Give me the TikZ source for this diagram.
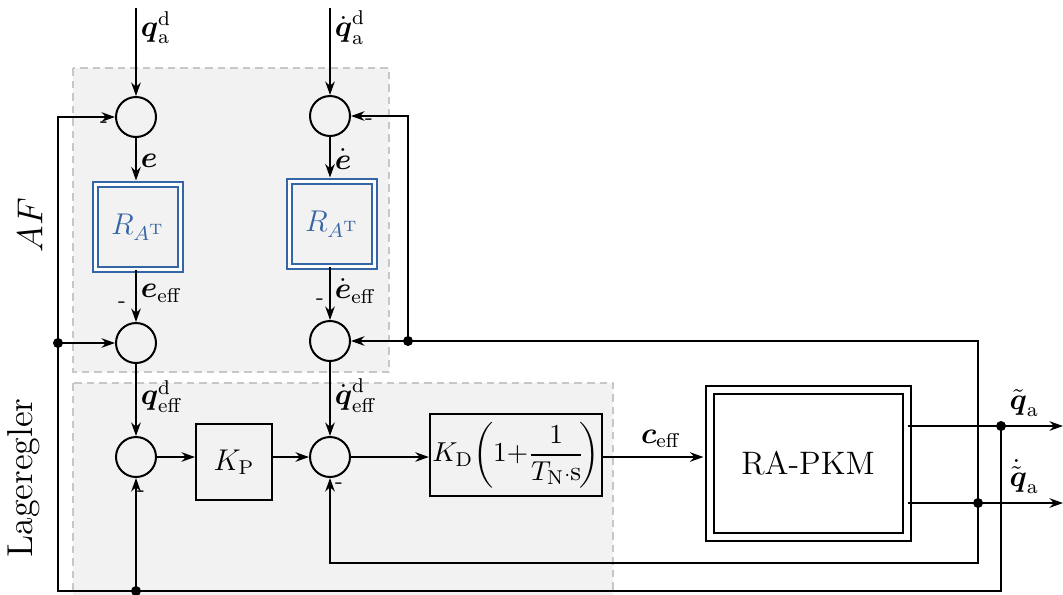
\documentclass[tikz,border=0pt]{standalone}
\usepackage{amsmath}
\usetikzlibrary{arrows.meta}
\definecolor{afblue}{RGB}{52,101,164}
\tikzset{
	sumnode/.style={circle,draw,inner sep=0pt,minimum size=16pt},
	blkbox/.style={rectangle,draw,inner sep=1pt},
	rblock/.style={rectangle,draw=afblue,text=afblue,line width=0.6pt,double=white,double distance=1.4pt,minimum size=34pt},
	plant/.style={rectangle,draw,line width=0.8pt,double=white,double distance=2.4pt,minimum width=78.8pt,minimum height=58.8pt,font=\fontsize{13pt}{15pt}\selectfont},
	region/.style={fill=black!5,draw=black!22,dash pattern=on 3pt off 2pt,line width=0.6pt},
	junc/.style={circle,fill,inner sep=0pt,minimum size=4pt},
	sgn/.style={font=\small,inner sep=0pt},
	lbl/.style={inner sep=1.5pt},
}
\begin{document}
\begin{tikzpicture}[x=0.4pt,y=-0.4pt,font=\large,thick,>={Stealth[length=5.4pt,width=3.8pt]}]
\useasboundingbox (0,0) rectangle (1063,594);
%
	\draw[region] (73,68) rectangle (389,372);
	\draw[region] (73,383) rectangle (613,610);
	\node[rotate=90,font=\Large] (lblaf) at (30,225) {$AF$};
	\node[rotate=90,font=\Large] (lbllr) at (24,478) {Lageregler};
%
	\node[sumnode] (s1) at (136,117) {};
	\node[sumnode] (s2) at (330,116) {};
	\node[rblock] (r1) at (138,227) {$R_{A^{\mathrm{T}}}$};
	\node[rblock] (r2) at (332,224) {$R_{A^{\mathrm{T}}}$};
	\node[sumnode] (s3) at (136,343) {};
	\node[sumnode] (s4) at (330,341) {};
	\node[sumnode] (s5) at (136,457) {};
	\node[sumnode] (s6) at (330,457) {};
	\node[blkbox,minimum size=30.4pt] (kp) at (234,462) {$K_{\mathrm{P}}$};
	\node[blkbox,minimum width=67.2pt,minimum height=32.8pt,font=\fontsize{11pt}{13pt}\selectfont] (kd) at (516,455)
		{$K_{\mathrm{D}}\!\left(1{+}\dfrac{1}{T_{\mathrm{N}}{\scriptstyle\cdot}\mathrm{s}}\!\right)$};
	\node[plant] (pkm) at (808,463) {RA-PKM};
%
	\coordinate (in1) at (136,8);
	\coordinate (in2) at (330,8);
	\coordinate (out1) at (1063,426);
	\coordinate (out2) at (1063,503);
	\coordinate (fbl) at (58,591);
	\coordinate (fbr) at (978,563);
	\node[junc] (j1) at (1001,426) {};
	\node[junc] (j2) at (978,503) {};
	\node[junc] (j3) at (408,341) {};
	\node[junc] (j4) at (58,343) {};
	\node[junc] (j5) at (136,591) {};
%
	\draw[->] (in1) -- (s1.north) node[lbl,pos=0.22,right] {$\boldsymbol{q}_{\mathrm{a}}^{\mathrm{d}}$};
	\draw[->] (in2) -- (s2.north) node[lbl,pos=0.22,right] {$\dot{\boldsymbol{q}}_{\mathrm{a}}^{\mathrm{d}}$};
	\draw[->,shorten >=1.3pt] (s1.south) -- (s1.south |- r1.north) node[lbl,midway,right] {$\boldsymbol{e}$};
	\draw[->,shorten >=1.3pt] (s2.south) -- (s2.south |- r2.north) node[lbl,midway,right] {$\dot{\boldsymbol{e}}$};
	\draw[->] (r1.south -| s3.north) -- (s3.north) node[lbl,pos=0.45,right] {$\boldsymbol{e}_{\mathrm{eff}}$};
	\draw[->] (r2.south -| s4.north) -- (s4.north) node[lbl,pos=0.45,right] {$\dot{\boldsymbol{e}}_{\mathrm{eff}}$};
	\draw[->] (s3.south) -- (s5.north) node[lbl,pos=0.45,right] {$\boldsymbol{q}_{\mathrm{eff}}^{\mathrm{d}}$};
	\draw[->] (s4.south) -- (s6.north) node[lbl,pos=0.45,right] {$\dot{\boldsymbol{q}}_{\mathrm{eff}}^{\mathrm{d}}$};
	\draw[->] (s5.east) -- (s5.east -| kp.west);
	\draw[->] (kp.east |- s6.west) -- (s6.west);
	\draw[->] (s6.east) -- (s6.east -| kd.west);
	\draw[->,shorten >=2pt] (kd.east |- s6.east) -- (pkm.west |- s6.east) node[pos=0.55,above] {$\boldsymbol{c}_{\mathrm{eff}}$};
	\draw[->] (pkm.east |- out1) -- (out1) node[pos=0.75,above] {$\tilde{\boldsymbol{q}}_{\mathrm{a}}$};
	\draw[->] (pkm.east |- out2) -- (out2) node[pos=0.75,above] {$\dot{\tilde{\boldsymbol{q}}}_{\mathrm{a}}$};
%
	\draw[->] (j1.center) |- (fbl) |- (s1.west);
	\draw[->] (j4.center) -- (s3.west);
	\draw[->] (j5.center) -- (s5.south);
	\draw[->] (j2.center) |- (j3.center) -- (s4.east);
	\draw[->] (j3.center) |- (s2.east);
	\draw[->] (j2.center) -- (fbr) -| (s6.south);
%
	\node[sgn] (m1) at (104,125) {-};
	\node[sgn] (m2) at (369,122) {-};
	\node[sgn] (m3) at (122,305) {-};
	\node[sgn] (m4) at (320,302) {-};
	\node[sgn] (m5) at (141,494) {-};
	\node[sgn] (m6) at (339,486) {-};
%
\end{tikzpicture}
\end{document}
